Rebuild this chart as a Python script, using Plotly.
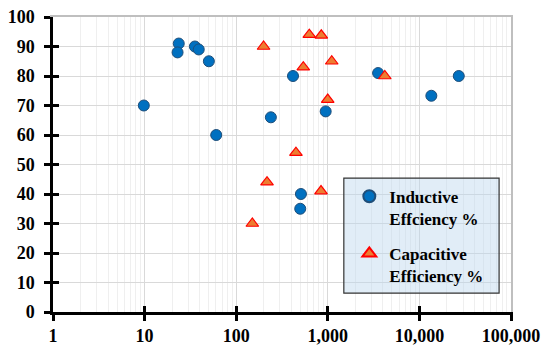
import plotly.graph_objects as go

# Inductive efficiency data (x: frequency-like quantity, log scale)
ind_x = [9.8, 23.6, 22.9, 35.4, 39, 50.3, 60.5, 239, 417, 948, 3540, 13500, 26900, 509, 500]
ind_y = [70, 91, 88, 90, 89, 85, 60, 66, 80, 68, 81, 73.3, 80, 40, 35]

# Capacitive efficiency data
cap_x = [199, 628, 849, 540, 1104, 4190, 998, 449, 843, 217, 150]
cap_y = [90, 94, 93.8, 83, 85, 80, 72, 54, 41, 44, 30]

x_tickvals = [1, 10, 100, 1000, 10000, 100000]
x_ticktext = ["1", "10", "100", "1,000", "10,000", "100,000"]
y_tickvals = list(range(0, 101, 10))
x_minor = [m * 10 ** d for d in range(0, 5) for m in range(2, 10)]

FONT = "Liberation Serif"

fig = go.Figure()
fig.add_trace(go.Scatter(
    x=ind_x, y=ind_y, mode="markers", name="<b>Inductive<br>Effciency %</b>",
    legendgroup="ind",
    marker=dict(symbol="circle", size=11, color="#0070C0",
                line=dict(color="#1F4E79", width=1)),
))
fig.add_trace(go.Scatter(
    x=cap_x, y=cap_y, mode="markers", name="<b>Capacitive<br>Efficiency %</b>",
    legendgroup="cap",
    marker=dict(symbol="triangle-up", size=11, color="#ED7D31",
                line=dict(color="#FF0000", width=1.2)),
))

tickfont = dict(family=FONT, size=18, color="black")

fig.update_layout(
    width=550, height=352,
    margin=dict(l=53, r=39, t=17, b=40),
    paper_bgcolor="white", plot_bgcolor="white",
    font=dict(family=FONT),
    showlegend=True,
    legend=dict(x=0.647, y=0.452, xanchor="left", yanchor="top",
                bgcolor="rgba(0,0,0,0)", borderwidth=0,
                font=dict(family=FONT, size=17, color="black"),
                valign="top", tracegroupgap=10, itemsizing="constant"),
    xaxis=dict(type="log", range=[0, 5], tickvals=x_tickvals,
               ticktext=["<b>" + t + "</b>" for t in x_ticktext],
               showline=True, linecolor="black", linewidth=2.5,
               ticks="outside", ticklen=6, tickwidth=2.5, tickcolor="black",
               showgrid=True, gridcolor="#d9d9d9", gridwidth=1.2,
               minor=dict(tickvals=x_minor, showgrid=True, gridcolor="#efefef", ticks=""),
               tickfont=tickfont, zeroline=False, automargin=False),
    yaxis=dict(range=[0, 100], tickvals=y_tickvals,
               ticktext=["<b>%d</b>" % v for v in y_tickvals],
               showline=True, linecolor="black", linewidth=2.5,
               ticks="outside", ticklen=6, tickwidth=2.5, tickcolor="black",
               showgrid=True, gridcolor="#d9d9d9", gridwidth=1.2,
               ticklabelstandoff=6,
               tickfont=tickfont, zeroline=False, automargin=False),
    xaxis2=dict(type="log", overlaying="x", matches="x", side="top", showline=True,
                linecolor="#bfbfbf", linewidth=1.5, showticklabels=False, ticks="",
                showgrid=False, zeroline=False, range=[0, 5], automargin=False),
    yaxis2=dict(overlaying="y", matches="y", side="right", showline=True,
                linecolor="#bfbfbf", linewidth=1.5, showticklabels=False, ticks="",
                showgrid=False, zeroline=False, range=[0, 100], automargin=False),
    xaxis3=dict(type="log", overlaying="x", matches="x", side="bottom", showline=False,
                tickvals=x_tickvals, ticks="inside", ticklen=6, tickwidth=2.5,
                tickcolor="black", showticklabels=False, showgrid=False,
                zeroline=False, range=[0, 5], automargin=False),
    yaxis3=dict(overlaying="y", matches="y", side="left", showline=False,
                tickvals=y_tickvals, ticks="inside", ticklen=6, tickwidth=2.5,
                tickcolor="black", showticklabels=False, showgrid=False,
                zeroline=False, range=[0, 100], automargin=False),
)

# Legend box
fig.add_shape(type="rect", xref="paper", yref="paper",
              x0=0.635, x1=0.974, y0=0.064, y1=0.454,
              fillcolor="rgba(189,215,238,0.45)", line=dict(color="#333333", width=1.2),
              layer="above")

# dummy invisible traces so overlay axes render
fig.add_trace(go.Scatter(x=[1], y=[0], xaxis="x2", yaxis="y2", mode="markers",
                         marker=dict(opacity=0), showlegend=False, hoverinfo="skip"))
fig.add_trace(go.Scatter(x=[1], y=[0], xaxis="x3", yaxis="y3", mode="markers",
                         marker=dict(opacity=0), showlegend=False, hoverinfo="skip"))

fig.write_html("out.html", config={"displayModeBar": False},
               post_script="document.body.style.margin='0';")
